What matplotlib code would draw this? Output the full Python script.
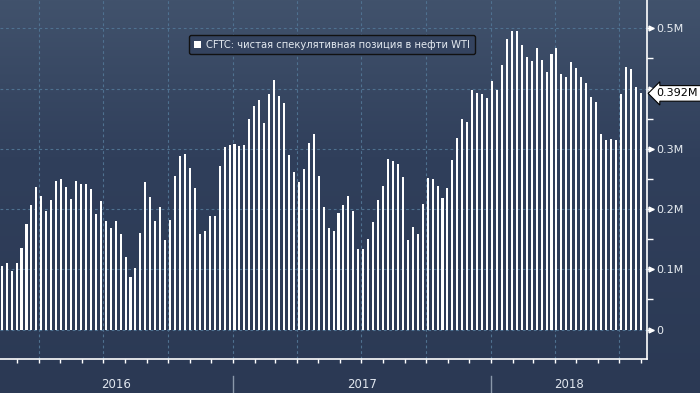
import numpy as np
import pandas as pd
import matplotlib
matplotlib.use('Agg')
import matplotlib.pyplot as plt
import matplotlib.dates as mdates

# CFTC net speculative position in WTI, weekly (millions of contracts)
start_date = '2016-02-09'
positions = [
    0.106, 0.111, 0.098, 0.111, 0.136, 0.176, 0.206, 0.237, 0.222, 0.196,
    0.215, 0.247, 0.250, 0.237, 0.217, 0.247, 0.242, 0.242, 0.234, 0.192,
    0.214, 0.181, 0.169, 0.181, 0.158, 0.121, 0.087, 0.103, 0.161, 0.245,
    0.220, 0.181, 0.204, 0.148, 0.182, 0.255, 0.288, 0.291, 0.268, 0.235,
    0.159, 0.164, 0.189, 0.189, 0.272, 0.303, 0.306, 0.308, 0.305, 0.306,
    0.349, 0.371, 0.381, 0.343, 0.391, 0.414, 0.387, 0.376, 0.290, 0.262,
    0.245, 0.267, 0.310, 0.325, 0.255, 0.204, 0.169, 0.163, 0.194, 0.207,
    0.222, 0.196, 0.134, 0.134, 0.151, 0.179, 0.215, 0.239, 0.283, 0.280,
    0.275, 0.253, 0.148, 0.171, 0.158, 0.209, 0.252, 0.250, 0.239, 0.219,
    0.235, 0.282, 0.318, 0.349, 0.344, 0.397, 0.393, 0.391, 0.384, 0.412,
    0.397, 0.439, 0.483, 0.496, 0.496, 0.473, 0.452, 0.445, 0.467, 0.447,
    0.427, 0.458, 0.468, 0.425, 0.419, 0.444, 0.434, 0.419, 0.410, 0.386,
    0.377, 0.325, 0.315, 0.316, 0.315, 0.391, 0.435, 0.433, 0.402, 0.392,
]
dates = pd.date_range(start_date, periods=len(positions), freq='7D')
years = [2016, 2017, 2018]
ytick_vals = [0, 0.1, 0.2, 0.3, 0.4, 0.5]
# 0.4M is hidden behind the last-value flag in the original
ytick_labels = ['0', '0.1M', '0.2M', '0.3M', '', '0.5M']
legend_label = 'CFTC: чистая спекулятивная позиция в нефти WTI'

plt.rcParams['font.family'] = ['DejaVu Sans']

fig = plt.figure(figsize=(7, 3.93), dpi=100)
fig.patch.set_facecolor('#2b3954')

# background gradient
bg = fig.add_axes([0, 0, 1, 1], zorder=-5)
t = np.linspace(0, 1, 256)[:, None]
top_c = np.array([0x41, 0x52, 0x6c]) / 255
mid_c = np.array([0x30, 0x3f, 0x5b]) / 255
bot_c = np.array([0x2b, 0x39, 0x54]) / 255
w = np.clip(t / 0.4, 0, 1)
grad = np.where(t < 0.4, (1 - w) * top_c + w * mid_c,
                mid_c + (t - 0.4) / 0.6 * (bot_c - mid_c))
bg.imshow(grad[:, None, :].repeat(2, axis=1), aspect='auto', extent=[0, 1, 0, 1])
bg.axis('off')

ax = fig.add_axes([0, 33.7 / 393, 647 / 700, 1 - 33.7 / 393])
ax.set_facecolor('none')

ax.bar(dates, positions, width=2.9, color='white', zorder=3)

ax.set_xlim(pd.Timestamp('2016-02-06 14:00'), pd.Timestamp('2018-08-09'))
ax.set_ylim(-0.0493, 0.547)

# grid
ax.set_yticks(ytick_vals)
ax.set_yticklabels(ytick_labels)
ax.set_yticks(np.arange(0.05, 0.5, 0.1), minor=True)
ax.xaxis.set_major_locator(mdates.MonthLocator(bymonth=[1, 4, 7, 10]))
ax.xaxis.set_minor_locator(mdates.MonthLocator())
ax.xaxis.set_major_formatter(plt.NullFormatter())
ax.grid(True, which='major', color='#4f7190', linestyle=(0, (2.5, 2.5)), linewidth=0.8)

for side in ['left', 'top']:
    ax.spines[side].set_visible(False)
ax.spines['right'].set_color('white')
ax.spines['bottom'].set_color('white')
ax.spines['right'].set_linewidth(1.2)
ax.spines['bottom'].set_linewidth(1.2)

ax.yaxis.tick_right()
ax.tick_params(axis='y', which='major', colors='white', length=5, width=1,
               labelsize=8, labelcolor='#e8edf2', pad=2)
ax.tick_params(axis='y', which='minor', colors='white', length=4, width=1)
ax.tick_params(axis='x', which='both', colors='white', length=3, width=1)

# small arrowheads on major y ticks
ax.plot([1.0065] * len(ytick_vals), ytick_vals, marker='>', color='white',
        markersize=3.5, linestyle='none', transform=ax.get_yaxis_transform(),
        clip_on=False)

# year labels and separators in the bottom band
x0, x1 = ax.get_xlim()
for y in years:
    ys = mdates.date2num(pd.Timestamp(f'{y}-01-01'))
    ye = mdates.date2num(pd.Timestamp(f'{y + 1}-01-01'))
    a, b = max(ys, x0), min(ye, x1)
    ax.text((a + b) / 2, -0.069, str(y), color='#e0e6ee', fontsize=8.5,
            ha='center', va='center', transform=ax.get_xaxis_transform(),
            clip_on=False)
    if ys > x0:
        ax.plot([ys, ys], [-0.0465, -0.094], color='#8a98aa', linewidth=1,
                transform=ax.get_xaxis_transform(), clip_on=False)

# legend
leg_handle = plt.Rectangle((0, 0), 1, 1, fc='white', ec='none')
leg = ax.legend([leg_handle], [legend_label], loc='upper left',
                bbox_to_anchor=(184 / 647, 1 - 30 / 359.3), frameon=True,
                fontsize=7.2, labelcolor='#e3e9f0', handlelength=0.7,
                handleheight=0.7, handletextpad=0.6, borderpad=0.45,
                fancybox=True)
leg.get_frame().set_facecolor('#34435f')
leg.get_frame().set_edgecolor('#111111')
leg.get_frame().set_linewidth(1.0)
leg.get_frame().set_alpha(1)

# last value label
ax.annotate(f'{positions[-1]:.3f}M', xy=(1.0, positions[-1]),
            xycoords=ax.get_yaxis_transform(), xytext=(7, 0),
            textcoords='offset points', va='center', ha='left', fontsize=8,
            color='black', zorder=10,
            bbox=dict(boxstyle='larrow,pad=0.25', fc='white', ec='black', lw=0.8))

fig.savefig('out.png', dpi=100, facecolor=fig.get_facecolor())
